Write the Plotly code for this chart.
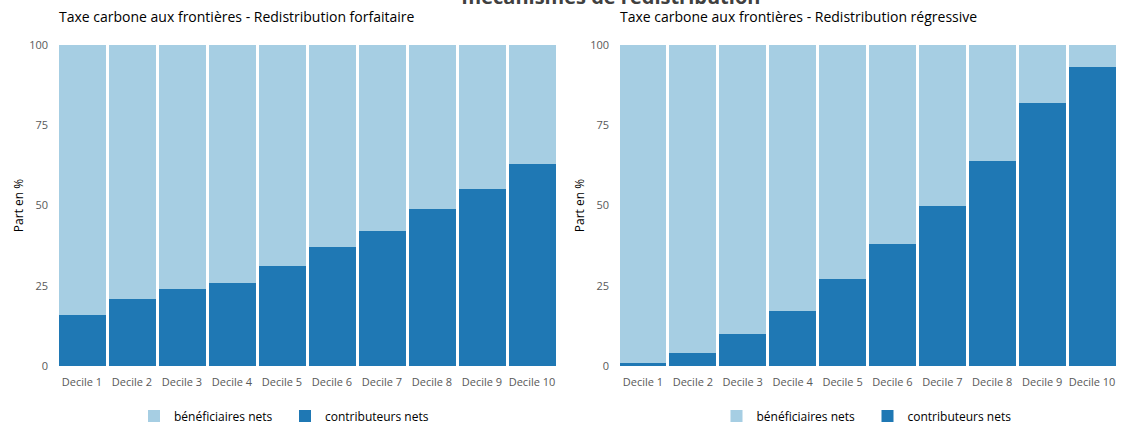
import plotly.graph_objects as go

deciles = ["Decile 1", "Decile 2", "Decile 3", "Decile 4", "Decile 5",
           "Decile 6", "Decile 7", "Decile 8", "Decile 9", "Decile 10"]
contrib_forfaitaire = [16, 21, 24, 26, 31, 37, 42, 49, 55, 63]
contrib_regressive = [1, 4, 10, 17, 27, 38, 50, 64, 82, 93]
benef_forfaitaire = [100 - v for v in contrib_forfaitaire]
benef_regressive = [100 - v for v in contrib_regressive]

title_main = "mécanismes de redistribution"
title_left = "Taxe carbone aux frontières - Redistribution forfaitaire"
title_right = "Taxe carbone aux frontières - Redistribution régressive"
y_title = "Part en %"
name_benef = "bénéficiaires nets"
name_contrib = "contributeurs nets"

C_DARK = "#1f78b4"
C_LIGHT = "#a6cee3"
FONT = "Open Sans"

fig = go.Figure()

for i, (contrib, benef) in enumerate([(contrib_forfaitaire, benef_forfaitaire),
                                      (contrib_regressive, benef_regressive)]):
    xa = "x" if i == 0 else "x2"
    ya = "y" if i == 0 else "y2"
    lg = "legend" if i == 0 else "legend2"
    fig.add_trace(go.Bar(x=deciles, y=contrib, name=name_contrib, marker_color=C_DARK,
                         marker_line_width=0, xaxis=xa, yaxis=ya, legend=lg))
    fig.add_trace(go.Bar(x=deciles, y=benef, name=name_benef, marker_color=C_LIGHT,
                         marker_line_width=0, xaxis=xa, yaxis=ya, legend=lg))

W, H = 1122, 428
ml, mr, mt, mb = 57, 5, 45, 62
pw = W - ml - mr
ph = H - mt - mb
d1 = [0, 500 / pw]
d2 = [(618 - ml) / pw, 1.0]

tickfont = dict(family=FONT, size=11, color="#595959")
xcommon = dict(showgrid=False, zeroline=False, showline=False, ticks="", automargin=False,
               tickfont=tickfont, ticklabelstandoff=8)
ycommon = dict(showgrid=False, zeroline=False, showline=False, ticks="", automargin=False,
               tickfont=tickfont, ticklabelstandoff=8, range=[0, 100],
               tickvals=[0, 25, 50, 75, 100],
               title=dict(text=y_title, font=dict(family=FONT, size=12, color="#000000"),
                          standoff=2))
legcommon = dict(orientation="h", y=-(416 - 366) / ph, yanchor="middle", traceorder="reversed",
                 itemwidth=30, entrywidth=106, entrywidthmode="pixels",
                 font=dict(family=FONT, size=12, color="#000000"), tracegroupgap=0)

fig.update_layout(
    width=W, height=H,
    margin=dict(l=ml, r=mr, t=mt, b=mb, autoexpand=False),
    barmode="stack", bargap=0.06,
    plot_bgcolor="white", paper_bgcolor="white",
    font=dict(family=FONT, color="#000000"),
    xaxis=dict(domain=d1, anchor="y", **xcommon),
    xaxis2=dict(domain=d2, anchor="y2", **xcommon),
    yaxis=dict(domain=[0, 1], anchor="x", **ycommon),
    yaxis2=dict(domain=[0, 1], anchor="x2", **ycommon),
    legend=dict(x=sum(d1) / 2 - 22 / pw, xanchor="center", **legcommon),
    legend2=dict(x=sum(d2) / 2, xanchor="center", **legcommon),
    title=dict(text="<b>" + title_main + "</b>", x=611 / W, xanchor="center",
               y=1 - 4 / H, yanchor="bottom", yref="container", automargin=False,
               font=dict(family=FONT, size=20, color="#404040")),
    annotations=[
        dict(text=title_left, xref="paper", yref="paper", x=d1[0], y=1 + 28 / ph,
             xanchor="left", yanchor="middle", showarrow=False,
             font=dict(family=FONT, size=14, color="#000000")),
        dict(text=title_right, xref="paper", yref="paper", x=d2[0], y=1 + 28 / ph,
             xanchor="left", yanchor="middle", showarrow=False,
             font=dict(family=FONT, size=14, color="#000000")),
    ],
)

fig.write_html("out.html", config={"displayModeBar": False},
               post_script="document.body.style.margin='0';")
